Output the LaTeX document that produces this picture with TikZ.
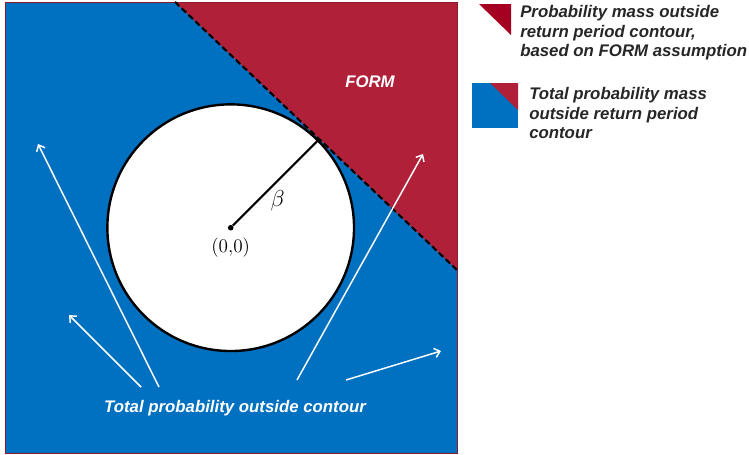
\documentclass[tikz,border=0pt]{standalone}
\usepackage{fontspec}
\usepackage{tikz}
\usetikzlibrary{positioning,arrows.meta}
\newfontfamily\arialfont{Liberation Sans}
\definecolor{myblue}{RGB}{0,112,192}
\definecolor{myred}{RGB}{176,32,56}
\definecolor{mydarkred}{RGB}{165,0,33}
\definecolor{mygray}{RGB}{38,38,38}

\begin{document}
\begin{tikzpicture}[x=0.75pt,y=-0.75pt,
  lbl/.style={font=\arialfont\bfseries\itshape\fontsize{12.6}{14.6}\selectfont, inner sep=0pt},
  flow/.style={white, line width=1.1pt, -{Straight Barb[length=4pt,width=7pt]}}]
  \useasboundingbox (0,0) rectangle (749,454);

  % Probability space
  \fill[myblue] (5,2) rectangle (457,453);
  \fill[myred] (175,2) -- (457,2) -- (457,270) -- cycle;
  \draw[myred!80!black, line width=0.6pt] (5,2) rectangle (457,453);

  % Return period contour
  \node[draw, circle, fill=white, line width=1.8pt, minimum size=185pt, inner sep=0pt] (contour) at (230.7,227.7) {};
  \node[circle, fill=black, minimum size=4.2pt, inner sep=0pt] (origin) at (230.7,227.7) {};
  \node[below=2pt of origin, font=\Large] (originlbl) {(0,0)};
  \draw[line width=1.5pt] (origin) -- (contour.45) node[pos=0.52, below=3pt, font=\LARGE]{$\beta$};

  % FORM limit state
  \coordinate (formtop) at (175,2);
  \coordinate (formright) at (457,270);
  \draw[line width=1.6pt, dash pattern=on 4.5pt off 2.5pt] (formtop) -- (formright);
  \node[lbl, text=white] (formlbl) at (370,82) {FORM};

  % Outward arrows
  \coordinate (tail1) at (159,387); \coordinate (head1) at (38,144);
  \coordinate (tail2) at (141,387); \coordinate (head2) at (69,315);
  \coordinate (tail3) at (297,380); \coordinate (head3) at (423,154);
  \coordinate (tail4) at (346,380); \coordinate (head4) at (441,351);
  \draw[flow] (tail1) -- (head1);
  \draw[flow] (tail2) -- (head2);
  \draw[flow] (tail3) -- (head3);
  \draw[flow] (tail4) -- (head4);
  \node[lbl, text=white] (totallbl) at (235,408) {Total probability outside contour};

  % Legend
  \fill[mydarkred] (479,4) -- (511,4) -- (511,35) -- cycle;
  \node[lbl, text=mygray, anchor=west, align=left] (formkey) at (520,33)
    {Probability mass outside\\return period contour,\\based on FORM assumption};
  \fill[myblue] (472,83) rectangle (518,128);
  \fill[myred] (490,83) -- (518,83) -- (518,110) -- cycle;
  \node[lbl, text=mygray, anchor=west, align=left] (totalkey) at (529,113)
    {Total probability mass\\outside return period\\contour};
\end{tikzpicture}
\end{document}
